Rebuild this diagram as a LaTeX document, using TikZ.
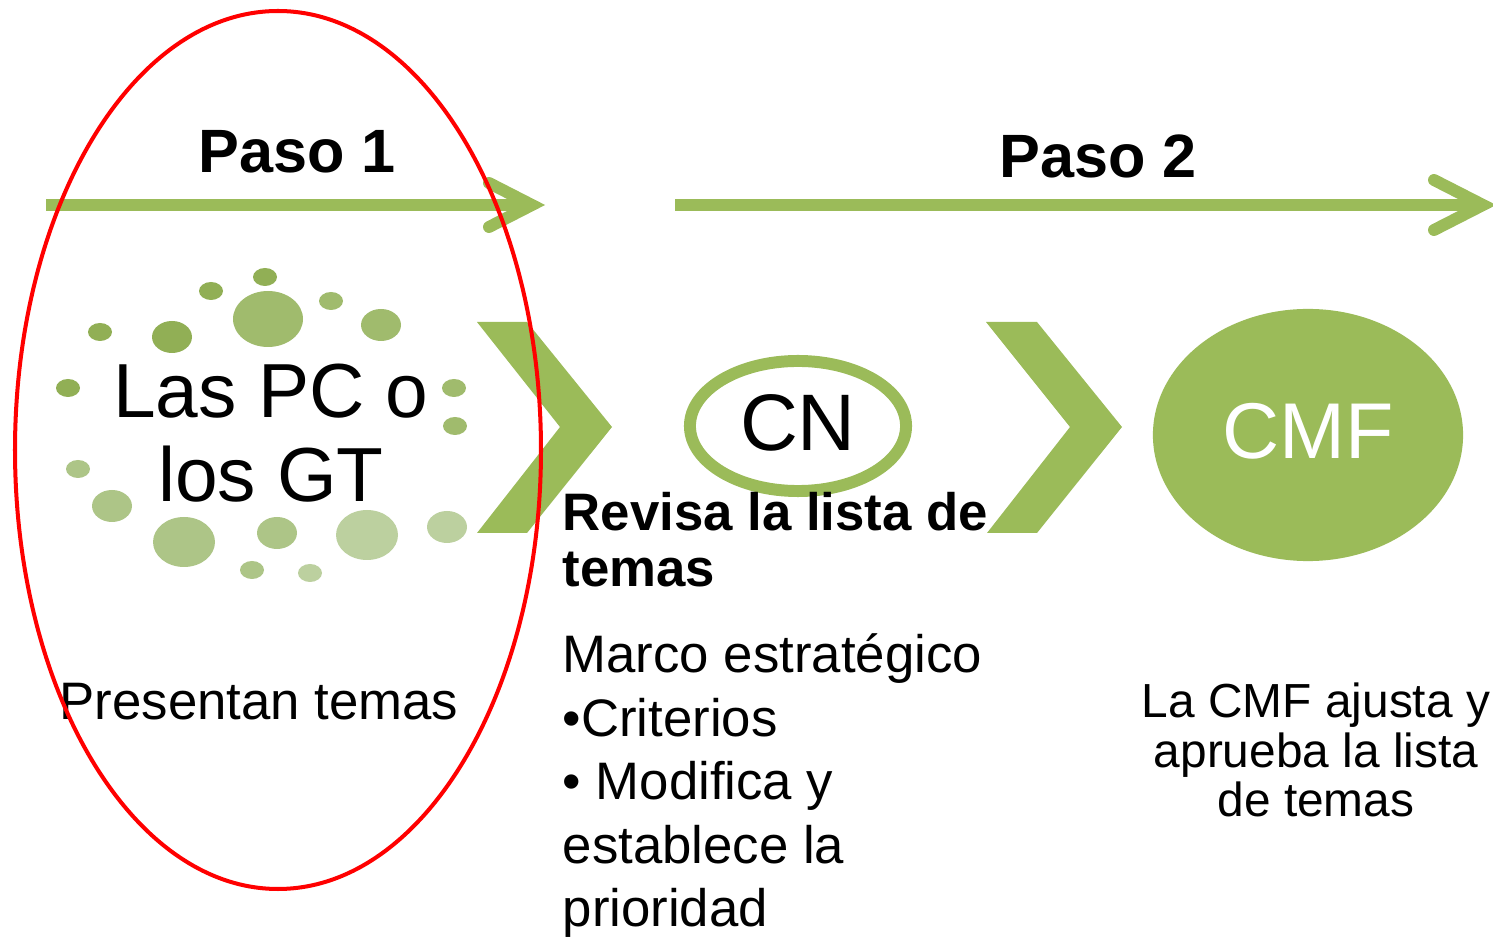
\documentclass[tikz,border=0pt]{standalone}
\usepackage{fontspec}
\setmainfont{Liberation Sans}
\usetikzlibrary{shapes.geometric}
\definecolor{verde}{HTML}{9BBB59}
\definecolor{gotaA}{HTML}{91AF55}
\definecolor{gotaB}{HTML}{A0BB6D}
\definecolor{gotaC}{HTML}{ADC587}
\definecolor{gotaD}{HTML}{BCD09F}
\tikzset{
    %Define arrow styles
    flecha/.style={
           draw=verde,
           line width=3.4pt},
    punta/.style={
           draw=verde,
           line width=3.4pt,
           line cap=round,
           line join=miter},
    %Define style for the step titles
    paso/.style={
           font=\fontsize{17.4}{20}\selectfont\bfseries,
           inner sep=0pt,
           anchor=base},
    %Define style for texts
    texto/.style={
           font=\fontsize{15}{18.1}\selectfont,
           inner sep=0pt},
    negrita/.style={
           font=\fontsize{15}{16.2}\selectfont\bfseries,
           inner sep=0pt},
    %Define style for the ellipses
    anillo/.style={
           ellipse,
           draw=verde,
           line width=3.4pt,
           minimum width=2.16cm,
           minimum height=1.30cm,
           inner sep=0pt,
           text depth=2pt,
           font=\fontsize{22.8}{26}\selectfont},
    disco/.style={
           ellipse,
           fill=verde,
           text=white,
           minimum width=3.10cm,
           minimum height=2.52cm,
           inner sep=0pt,
           text depth=2.6pt,
           font=\fontsize{22.5}{26}\selectfont},
    marca/.style={
           draw=red,
           line width=1.14pt}
}
\begin{document}
\begin{tikzpicture}[x=0.01cm,y=-0.01cm]
\useasboundingbox (0,0) rectangle (1493,937);

 %arrows
\coordinate (a1) at (46,205);
\coordinate (b1) at (532,205);
\coordinate (a2) at (675,205);
\coordinate (b2) at (1483,205);
\draw[flecha] (a1) -- (b1);
\draw[punta] ([shift={(-43,-22)}]b1) -- (b1) -- ([shift={(-43,22)}]b1);
\draw[flecha] (a2) -- (b2);
\draw[punta] ([shift={(-49,-25)}]b2) -- (b2) -- ([shift={(-49,25)}]b2);

 %chevrons
\fill[verde] (477,322) -- (527,322) -- (612,427) -- (527,533) -- (477,533) -- (560,427) -- cycle;
\fill[verde] (986,322) -- (1037,322) -- (1122,427) -- (1037,533) -- (987,533) -- (1070,427) -- cycle;

 %dots
\fill[gotaA] (265,277) ellipse [x radius=12, y radius=9];
\fill[gotaA] (211,291) ellipse [x radius=12, y radius=9];
\fill[gotaB] (268,319) ellipse [x radius=35, y radius=28];
\fill[gotaB] (331,301) ellipse [x radius=12, y radius=9];
\fill[gotaB] (381,325) ellipse [x radius=20, y radius=16];
\fill[gotaA] (100,332) ellipse [x radius=12, y radius=9];
\fill[gotaA] (172,337) ellipse [x radius=20, y radius=16];
\fill[gotaA] (68,388) ellipse [x radius=12, y radius=9];
\fill[gotaB] (454,388) ellipse [x radius=12, y radius=9];
\fill[gotaB] (455,426) ellipse [x radius=12, y radius=9];
\fill[gotaC] (78,469) ellipse [x radius=12, y radius=9];
\fill[gotaC] (112,506) ellipse [x radius=20, y radius=16];
\fill[gotaC] (184,542) ellipse [x radius=31, y radius=25];
\fill[gotaC] (277,533) ellipse [x radius=20, y radius=16];
\fill[gotaD] (367,535) ellipse [x radius=31, y radius=25];
\fill[gotaD] (447,527) ellipse [x radius=20, y radius=16];
\fill[gotaC] (252,570) ellipse [x radius=12, y radius=9];
\fill[gotaD] (310,573) ellipse [x radius=12, y radius=9];

 %nodes
\node[anillo] (cn) at (798,426) {CN};
\node[disco] (cmf) at (1308,435) {CMF};
\node[paso] (p1) at (297,173) {Paso 1};
\node[paso] (p2) at (1098,178) {Paso 2};
\node[texto, font=\fontsize{21.8}{23.9}\selectfont, align=center, anchor=base] (pc) at (271,502) {Las PC o\\los GT};
\node[texto, anchor=base] (pt) at (259,720) {Presentan temas};
\node[negrita, align=left, anchor=base west] (rv) at (562,587) {Revisa la lista de\\temas};
\node[texto, align=left, anchor=base west] (mc) at (562,927) {Marco estratégico\\•Criterios\\• Modifica y\\establece la\\prioridad};
\node[texto, font=\fontsize{13.6}{14.1}\selectfont, align=center, anchor=base] (aj) at (1316,817) {La CMF ajusta y\\aprueba la lista\\de temas};

 %red mark
\draw[marca] (278,450) ellipse [x radius=263, y radius=439];

\end{tikzpicture}
\end{document}
